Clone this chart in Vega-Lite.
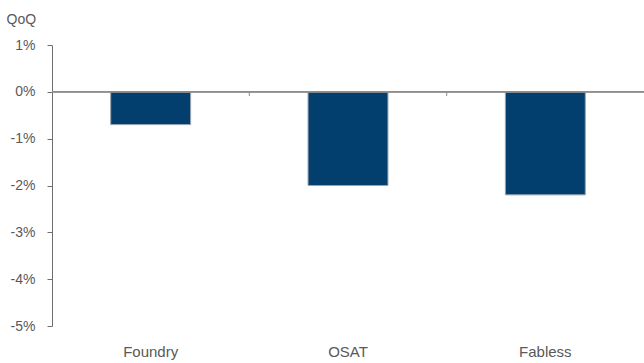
{
  "$schema": "https://vega.github.io/schema/vega-lite/v6.json",
  "autosize": {"type": "none"},
  "width": 592,
  "height": 281,
  "padding": {"left": 52, "top": 45, "right": 0, "bottom": 37},
  "background": "white",
  "config": {"view": {"stroke": null}, "font": "Liberation Sans"},
  "data": {"values": [
    {"segment": "Foundry", "qoq": -0.7, "boundary": false},
    {"segment": "OSAT", "qoq": -2.0, "boundary": true},
    {"segment": "Fabless", "qoq": -2.2, "boundary": true}
  ]},
  "layer": [
    {
      "mark": {"type": "bar", "width": {"band": 0.405}, "color": "#023f6e", "stroke": "#9aa4ae", "strokeWidth": 1},
      "encoding": {
        "x": {"field": "segment", "type": "nominal", "sort": null,
          "scale": {"paddingInner": 0, "paddingOuter": 0},
          "axis": {"title": null, "domain": false, "ticks": false, "labelAngle": 0, "labelPadding": 18, "labelFontSize": 15, "labelColor": "#595959", "labelFont": "Liberation Sans"}},
        "y": {"field": "qoq", "type": "quantitative",
          "scale": {"domain": [-5, 1], "nice": false, "zero": false},
          "axis": {"title": "QoQ", "titleAngle": 0, "titleAlign": "left", "titleBaseline": "alphabetic", "titleX": -46, "titleY": -22, "titleFontSize": 14, "titleFontWeight": "normal", "titleColor": "#595959", "titleFont": "Liberation Sans",
            "values": [-5, -4, -3, -2, -1, 0, 1], "labelExpr": "datum.value + '%'", "labelFontSize": 14, "labelColor": "#595959", "labelPadding": 12, "labelFont": "Liberation Sans",
            "grid": false, "domainColor": "#6e6e6e", "tickColor": "#6e6e6e", "tickSize": 5}}
      }
    },
    {
      "mark": {"type": "rule", "color": "#8c8c8c", "strokeWidth": 1.2},
      "encoding": {"y": {"datum": 0}}
    },
    {
      "transform": [{"filter": "datum.boundary"}],
      "mark": {"type": "rule", "color": "#8c8c8c", "strokeWidth": 1},
      "encoding": {
        "x": {"field": "segment", "type": "nominal", "sort": null, "bandPosition": 0},
        "y": {"datum": 0},
        "y2": {"datum": -0.09}
      }
    }
  ]
}
